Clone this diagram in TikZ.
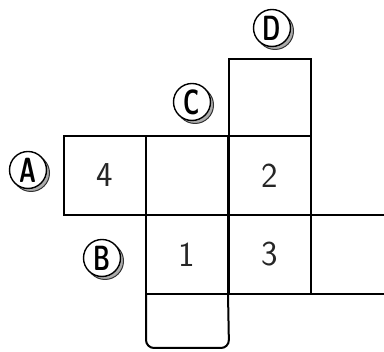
\documentclass[tikz,border=0pt]{standalone}
\usetikzlibrary{shadows}
\begin{document}
\begin{tikzpicture}[x=1pt,y=-1pt,
  edge/.style={line width=2pt,black},
  cell/.style={draw,line width=2pt,minimum width=82pt,minimum height=79pt,inner sep=0pt,outer sep=0pt,anchor=north west,
    font=\sffamily\fontsize{35}{35}\selectfont,text=black!85},
  coin/.style={circle,draw,line width=1.4pt,fill=white,minimum size=37pt,inner sep=0pt,
    drop shadow={shadow xshift=3pt,shadow yshift=-3pt,fill=gray!65,draw=black!80,line width=1pt,opacity=1},
    font=\sffamily\bfseries\fontsize{35}{35}\selectfont}]
\useasboundingbox (0,0) rectangle (384,352);
% cells
\node[cell,minimum height=77pt] (d) at (229,59) {};
\node[cell] (c4) at (64,136) {4};
\node[cell] (cm) at (146,136) {};
\node[cell] (c2) at (229,136) {2};
\node[cell] (c1) at (146,215) {1};
\node[cell] (c3) at (229,215) {3};
% open cell on the right
\coordinate (r1) at (386,215);
\coordinate (r2) at (386,294);
\draw[edge] (c3.north east) -- (r1);
\draw[edge] (c3.south east) -- (r2);
% bottom cell
\coordinate (b1) at (146,348);
\coordinate (b2) at (229,348);
\draw[edge,rounded corners=8pt] (c1.south west) -- (b1) -- (b2) -- (c1.south east);
% labels
\node[coin] (la) at (28,170) {\scalebox{0.66}[1]{A}};
\node[coin] (lb) at (102,258) {\scalebox{0.66}[1]{B}};
\node[coin] (lc) at (192,102) {\scalebox{0.66}[1]{C}};
\node[coin] (ld) at (272,28) {\scalebox{0.66}[1]{D}};
\end{tikzpicture}
\end{document}
